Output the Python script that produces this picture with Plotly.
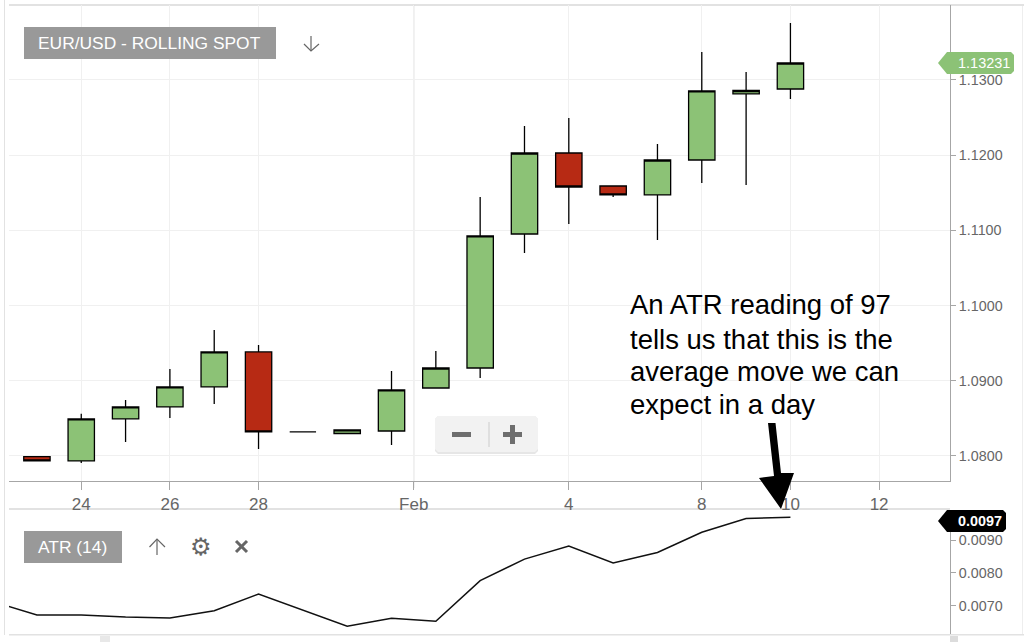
import plotly.graph_objects as go

W, H = 1024, 642

# session index, weekends are skipped on the axis
sessions = list(range(18))
opens = [1.07990, 1.07934, 1.08492, 1.08652, 1.08918, 1.09383, 1.08320, 1.08299, 1.08332,
         1.08904, 1.09170, 1.10952, 1.12029, 1.11590, 1.11471, 1.11936, 1.12814, 1.12880]
highs = [1.07990, 1.08562, 1.08745, 1.09157, 1.09676, 1.09476, 1.08320, 1.08346, 1.09130,
         1.09396, 1.11444, 1.12388, 1.12495, 1.11590, 1.12149, 1.13372, 1.13106, 1.13758]
lows = [1.07935, 1.07907, 1.08186, 1.08505, 1.08691, 1.08093, 1.08320, 1.08299, 1.08146,
        1.08904, 1.09037, 1.10700, 1.11085, 1.11444, 1.10872, 1.11630, 1.11604, 1.12747]
closes = [1.07935, 1.08492, 1.08652, 1.08918, 1.09383, 1.08319, 1.08320, 1.08346, 1.08878,
          1.09170, 1.10926, 1.12029, 1.11577, 1.11471, 1.11936, 1.12854, 1.12860, 1.13226]

atr_x = [-1] + sessions
atr = [0.00712, 0.00671, 0.00671, 0.00665, 0.00662, 0.00684, 0.00735, 0.00686, 0.00637, 0.00661,
       0.00652, 0.00776, 0.00842, 0.00882, 0.00830, 0.00862, 0.00924, 0.00966, 0.00970]

x_ticks = [1, 3, 5, 8.5, 12, 15, 17, 19]
x_labels = ["24", "26", "28", "Feb", "4", "8", "10", "12"]
price_ticks = [1.08, 1.09, 1.10, 1.11, 1.12, 1.13]
atr_ticks = [0.007, 0.008, 0.009]

GREEN = "#8cc276"
RED = "#b72a14"
GRID = "#f0f0f0"
AXIS = "#a6a6a6"
LIGHT = "#e2e2e2"
TEXT = "#666666"
FONT = "Liberation Sans"


def px(x):
    return x / W


def py(y):
    return 1 - y / H


def path(points, close=True):
    d = "M " + " L ".join(f"{px(x):.5f},{py(y):.5f}" for x, y in points)
    return d + (" Z" if close else "")


def rect(x0, y0, x1, y1, color, layer="below"):
    return dict(type="rect", xref="paper", yref="paper", x0=px(x0), x1=px(x1), y0=py(y0), y1=py(y1),
                fillcolor=color, line_width=0, layer=layer)


def stroke(points, color, width, layer="above", close=False, fill=None):
    shape = dict(type="path", xref="paper", yref="paper", path=path(points, close),
                 line=dict(color=color, width=width), layer=layer)
    if fill:
        shape["fillcolor"] = fill
    return shape


def label(x, y, text, size, color, anchor="left", family=FONT):
    return dict(xref="paper", yref="paper", x=px(x), y=py(y), text=text, showarrow=False, xanchor=anchor,
                yanchor="middle", font=dict(family=family, size=size, color=color), borderpad=0, borderwidth=0)


fig = go.Figure()
fig.add_trace(go.Candlestick(
    x=sessions, open=opens, high=highs, low=lows, close=closes, whiskerwidth=0,
    increasing=dict(fillcolor=GREEN, line=dict(color="#000000", width=1.3)),
    decreasing=dict(fillcolor=RED, line=dict(color="#000000", width=1.3)),
    xaxis="x", yaxis="y",
))
fig.add_trace(go.Scatter(x=atr_x, y=atr, mode="lines", line=dict(color="#111111", width=1.5),
                         xaxis="x2", yaxis="y2"))

x_range = [-0.63, 20.6]
shapes = [
    # panel frame
    rect(4, 0, 5, 635, LIGHT),
    rect(9, 4, 1024, 6, LIGHT),
    rect(9, 508, 950, 510, LIGHT),
    rect(1022, 6, 1023, 634, "#eeeeee"),
    rect(9, 634, 1024, 635.5, LIGHT),
    rect(100, 636, 110, 642, "#e8e8e8"),
    rect(950, 636, 958, 642, "#dcdcdc"),
    dict(type="line", xref="x", yref="paper", x0=8.5, x1=8.5, y0=py(488), y1=py(5),
         line=dict(color="#cfcfcf", width=1.2), layer="below"),
    # title buttons
    rect(24, 27, 276, 59, "#999999", "above"),
    rect(24, 531, 122, 563, "#999999", "above"),
    # down arrow, up arrow and close icons
    stroke([(311, 36), (311, 51)], "#666666", 1.2),
    stroke([(304, 44), (311, 51), (319, 44)], "#666666", 1.2),
    stroke([(157, 539), (157, 555)], "#666666", 1.2),
    stroke([(149.5, 547), (157, 539), (165, 547)], "#666666", 1.2),
    stroke([(236, 541), (247, 552)], "#666666", 3),
    stroke([(247, 541), (236, 552)], "#666666", 3),
    # zoom control
    dict(type="path", xref="paper", yref="paper", layer="above", fillcolor="#e6e6e6", line_width=0,
         path=path([(435, 419), (438, 416), (535, 416), (538, 419), (538, 451), (535, 454), (438, 454), (435, 451)])),
    dict(type="path", xref="paper", yref="paper", layer="above", fillcolor="#f2f2f2", line_width=0,
         path=path([(435, 419), (438, 416), (535, 416), (538, 419), (538, 449), (535, 452), (438, 452), (435, 449)])),
    rect(452, 432, 471, 437, "#6e6e6e", "above"),
    rect(488.5, 422, 489.5, 447, "#cccccc", "above"),
    rect(503, 432, 522, 437, "#6e6e6e", "above"),
    rect(510, 425, 515, 444, "#6e6e6e", "above"),
    # price tags
    stroke([(938, 63), (947, 52), (1011, 52), (1014, 55), (1014, 71), (1011, 74), (947, 74)],
           GREEN, 0, close=True, fill=GREEN),
    stroke([(938, 521), (947, 510), (1003, 510), (1006, 513), (1006, 529), (1003, 532), (947, 532)],
           "#000000", 0, close=True, fill="#000000"),
    # callout arrow
    stroke([(768, 423), (775.5, 423), (781, 473), (794, 473), (781, 509), (759, 478), (774, 476)],
           "#000000", 0, close=True, fill="#000000"),
]

annotations = [
    label(38, 43, "EUR/USD - ROLLING SPOT", 17.4, "#ffffff"),
    label(38, 547, "ATR (14)", 17.4, "#ffffff"),
    label(201, 547, "⚙", 24, "#666666", "center", "DejaVu Sans"),
    label(1010, 63, "1.13231", 14.5, "#ffffff", "right"),
    label(1002, 521, "<b>0.0097</b>", 14.4, "#ffffff", "right"),
    label(630, 304, "An ATR reading of 97", 27.5, "#000000"),
    label(630, 339, "tells us that this is the", 27.5, "#000000"),
    label(630, 372, "average move we can", 27.5, "#000000"),
    label(630, 404, "expect in a day", 27.5, "#000000"),
]

tick_font = dict(family=FONT, size=14.3, color=TEXT)
fig.update_layout(
    width=W, height=H, margin=dict(l=0, r=0, t=0, b=0),
    paper_bgcolor="#ffffff", plot_bgcolor="#ffffff", showlegend=False, boxgap=0.15,
    shapes=shapes, annotations=annotations,
    xaxis=dict(domain=[px(9), px(950)], range=x_range, anchor="y", tickmode="array", tickvals=x_ticks,
               ticktext=x_labels, ticks="outside", ticklen=8, tickcolor=AXIS,
               tickfont=dict(family=FONT, size=17, color=TEXT),
               showline=True, linecolor=AXIS, linewidth=1, showgrid=True, gridcolor=GRID, zeroline=False,
               rangeslider=dict(visible=False)),
    yaxis=dict(domain=[py(481), py(5)], range=[1.07667, 1.13997], anchor="x", side="right", tickmode="array",
               tickvals=price_ticks, tickformat=".4f", ticks="outside", ticklen=5, tickcolor=AXIS,
               tickfont=tick_font, showline=True, linecolor=AXIS, linewidth=1, showgrid=True, gridcolor=GRID,
               zeroline=False),
    xaxis2=dict(domain=[px(9), px(950)], range=x_range, anchor="y2", visible=False),
    yaxis2=dict(domain=[py(634), py(510)], range=[0.00613, 0.00992], anchor="x2", side="right", tickmode="array",
                tickvals=atr_ticks, tickformat=".4f", ticks="outside", ticklen=5, tickcolor=AXIS,
                tickfont=tick_font, showline=True, linecolor=AXIS, linewidth=1, showgrid=False, zeroline=False),
)

# the page's default body margin would push the figure 8px in
fig.write_html("out.html", config=dict(displayModeBar=False), post_script="document.body.style.margin = '0';")
